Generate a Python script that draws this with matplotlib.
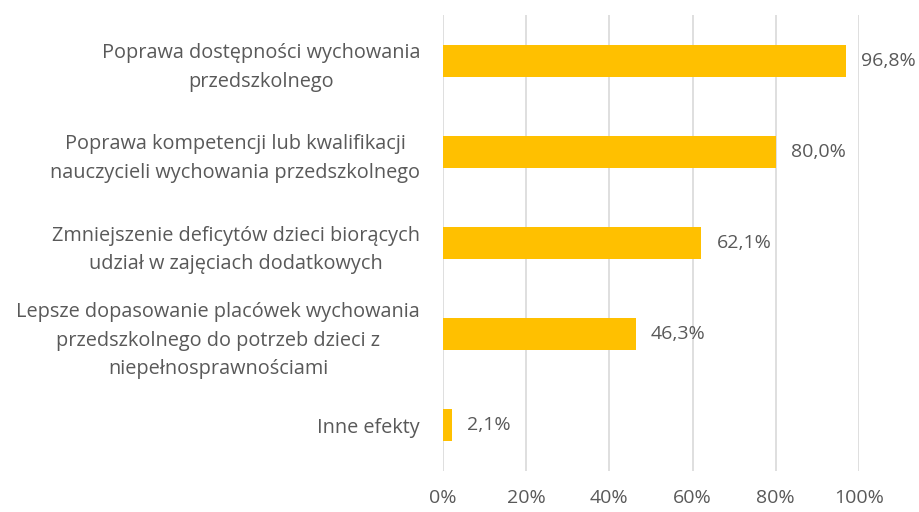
import matplotlib
matplotlib.use("Agg")
import matplotlib.pyplot as plt
from matplotlib.ticker import FuncFormatter

categories = [
    "Poprawa dostępności wychowania\nprzedszkolnego",
    "Poprawa kompetencji lub kwalifikacji\nnauczycieli wychowania przedszkolnego",
    "Zmniejszenie deficytów dzieci biorących\nudział w zajęciach dodatkowych",
    "Lepsze dopasowanie placówek wychowania\nprzedszkolnego do potrzeb dzieci z\nniepełnosprawnościami",
    "Inne efekty",
]
values = [96.8, 80.0, 62.1, 46.3, 2.1]
xticks = [0, 20, 40, 60, 80, 100]

plt.rcParams['font.family'] = ['Open Sans', 'DejaVu Sans']
text_color = "#595959"

fig = plt.figure(figsize=(9.2, 5.12), dpi=100)
ax = fig.add_axes([443/920, 1-471/512, (859-443)/920, (471-15)/512])

ypos = list(range(len(categories)))
ax.barh(ypos, values, height=0.35, color="#FFC000", zorder=3)
ax.set_ylim(len(categories)-0.5, -0.5)
ax.set_xlim(0, 100)
ax.set_xticks(xticks)
ax.xaxis.set_major_formatter(FuncFormatter(lambda v, p: f"{int(v)}%"))
ax.grid(axis='x', color="#D9D9D9", linewidth=1.2, zorder=0)
ax.set_yticks(ypos)
ax.set_yticklabels(categories, multialignment='center', fontsize=14.3,
                   color=text_color, linespacing=1.56)
for s in ax.spines.values():
    s.set_visible(False)
ax.tick_params(axis='both', length=0)
ax.tick_params(axis='y', pad=16.5)
ax.tick_params(axis='x', pad=13, labelsize=14, labelcolor=text_color)

for y, v in zip(ypos, values):
    ax.annotate(f"{v:.1f}%".replace(".", ","), xy=(v, y), xytext=(11, 0),
                textcoords="offset points", va='center', ha='left',
                fontsize=14, color=text_color)

fig.savefig("out.png", dpi=100)
